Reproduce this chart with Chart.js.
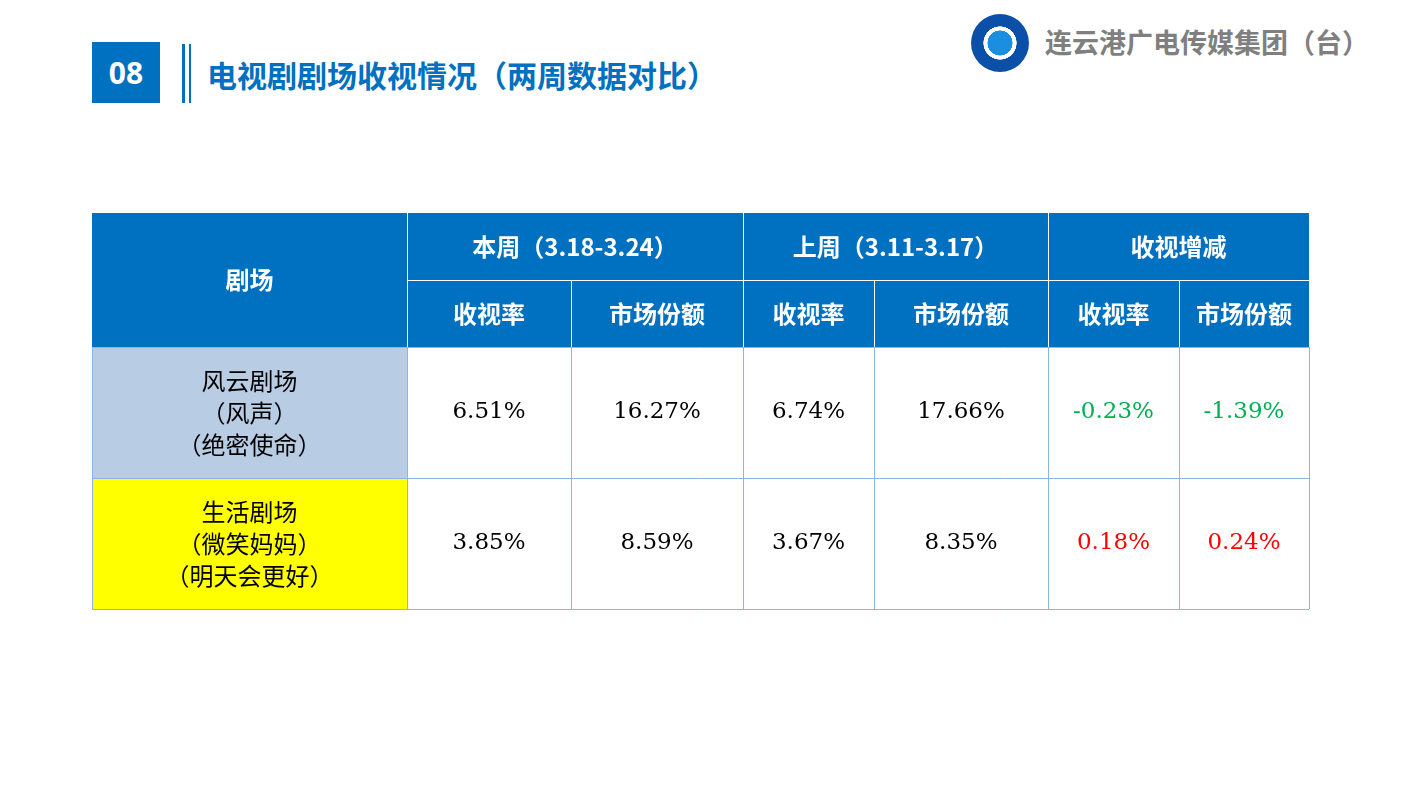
<!DOCTYPE html>
<html><head><meta charset="utf-8">
<script src="https://cdn.jsdelivr.net/npm/chart.js@4/dist/chart.umd.min.js"></script>
<style>
body{margin:0;width:1415px;height:795px;background:#fff;overflow:hidden;position:relative;font-family:"Noto Sans CJK SC",sans-serif}
#num{position:absolute;left:92px;top:42px;width:68px;height:61px;background:#0070C0;color:#fff;font:bold 30px "Noto Sans",sans-serif;display:flex;align-items:center;justify-content:center}
.bar{position:absolute;top:44px;height:59px;width:3px;background:#0070C0}
#title{position:absolute;left:207px;top:52px;color:#0070C0;font-weight:bold;font-size:30px;line-height:44px}
#logo{position:absolute;left:971px;top:14px;width:58px;height:58px;border-radius:50%;background:radial-gradient(circle at 50% 50%,#1a8fe0 0 30%,#fff 31% 40%,#0a4fa8 41% 100%)}
#org{position:absolute;left:1045px;top:22px;color:#7F7F7F;font-weight:bold;font-size:27px;line-height:40px}
#c{position:absolute;left:0;top:0}
</style></head><body>
<div id="num">08</div><div class="bar" style="left:182px"></div><div class="bar" style="left:189px;width:2px"></div>
<div id="title">电视剧剧场收视情况（两周数据对比）</div>
<div id="logo"></div><div id="org">连云港广电传媒集团（台）</div>
<canvas id="c" width="1415" height="795"></canvas>
<script>
const groupHeaders = ["本周（3.18-3.24）", "上周（3.11-3.17）", "收视增减"];
const subHeaders = ["收视率", "市场份额", "收视率", "市场份额", "收视率", "市场份额"];
const theaters = [["风云剧场", "（风声）", "（绝密使命）"], ["生活剧场", "（微笑妈妈）", "（明天会更好）"]];
const thisRating = [6.51, 3.85];
const thisShare = [16.27, 8.59];
const lastRating = [6.74, 3.67];
const lastShare = [17.66, 8.35];
const diffRating = [-0.23, 0.18];
const diffShare = [-1.39, 0.24];

const colX = [92, 407, 571, 743, 874, 1048, 1179, 1309];
const rowY = [213, 280, 347, 478, 609];
const tablePlugin = {
  id: 'table',
  afterDraw(chart) {
    const g = chart.ctx;
    g.save();
    const L = colX[0], R = colX[7];
    g.fillStyle = '#0070C0';
    g.fillRect(L, rowY[0], R - L, rowY[2] - rowY[0]);
    g.fillStyle = '#B8CCE4'; g.fillRect(L, rowY[2], colX[1] - L, rowY[3] - rowY[2]);
    g.fillStyle = '#FFFF00'; g.fillRect(L, rowY[3], colX[1] - L, rowY[4] - rowY[3]);
    // body grid
    g.strokeStyle = '#8EB4E3'; g.lineWidth = 1;
    for (let r = 2; r < rowY.length; r++) { g.beginPath(); g.moveTo(L, rowY[r] + .5); g.lineTo(R, rowY[r] + .5); g.stroke(); }
    colX.forEach(x => { g.beginPath(); g.moveTo(x + .5, rowY[2]); g.lineTo(x + .5, rowY[4]); g.stroke(); });
    // header grid white
    g.strokeStyle = '#ffffff';
    g.beginPath(); g.moveTo(colX[1], rowY[1] + .5); g.lineTo(R, rowY[1] + .5); g.stroke();
    [1, 3, 5].forEach(i => { g.beginPath(); g.moveTo(colX[i] + .5, rowY[0]); g.lineTo(colX[i] + .5, rowY[2]); g.stroke(); });
    [2, 4, 6].forEach(i => { g.beginPath(); g.moveTo(colX[i] + .5, rowY[1]); g.lineTo(colX[i] + .5, rowY[2]); g.stroke(); });
    g.textAlign = 'center'; g.textBaseline = 'middle';
    g.fillStyle = '#fff'; g.font = 'bold 24px "Noto Sans CJK SC"';
    g.fillText('剧场', (colX[0] + colX[1]) / 2, (rowY[0] + rowY[2]) / 2);
    groupHeaders.forEach((t, i) => g.fillText(t, (colX[1 + 2 * i] + colX[3 + 2 * i]) / 2, (rowY[0] + rowY[1]) / 2));
    subHeaders.forEach((t, i) => g.fillText(t, (colX[1 + i] + colX[2 + i]) / 2, (rowY[1] + rowY[2]) / 2));
    const fmt = v => (Math.round(v * 100) / 100).toFixed(2) + '%';
    theaters.forEach((lines, r) => {
      const cy = (rowY[2 + r] + rowY[3 + r]) / 2;
      g.font = '24px "Noto Sans CJK SC"'; g.fillStyle = '#000';
      lines.forEach((t, k) => g.fillText(t, (colX[0] + colX[1]) / 2, cy + (k - 1) * 32));
      const vals = [thisRating[r], thisShare[r], lastRating[r], lastShare[r], diffRating[r], diffShare[r]];
      g.font = '23px "DejaVu Serif"';
      vals.forEach((v, i) => {
        g.fillStyle = i < 4 ? '#000' : (v < 0 ? '#00B050' : '#FF0000');
        g.fillText(fmt(v), (colX[1 + i] + colX[2 + i]) / 2, cy);
      });
    });
    g.restore();
  }
};
new Chart(document.getElementById('c'), {
  type: 'bar',
  data: { labels: [], datasets: [] },
  options: { responsive: false, animation: false, devicePixelRatio: 1,
    plugins: { legend: { display: false }, tooltip: { enabled: false } },
    scales: { x: { display: false }, y: { display: false } } },
  plugins: [tablePlugin]
});
</script></body></html>
